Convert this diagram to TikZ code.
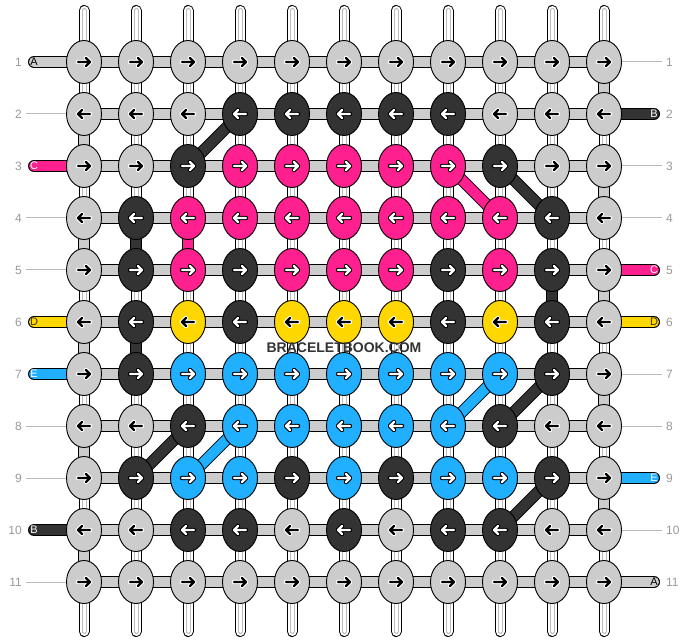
\documentclass[tikz,border=0pt]{standalone}
\usepackage{fontspec}
\setmainfont{Liberation Sans}
\usetikzlibrary{shapes.geometric,backgrounds}

\definecolor{filoA}{HTML}{CCCCCC}
\definecolor{filoB}{HTML}{333333}
\definecolor{filoC}{HTML}{FF2090}
\definecolor{filoD}{HTML}{FFD700}
\definecolor{filoE}{HTML}{20B0FF}
\definecolor{numeri}{HTML}{999999}
\definecolor{linee}{HTML}{BBBBBB}
% colori delle frecce e delle lettere
\colorlet{puntaA}{black}\colorlet{bordoA}{white}\colorlet{testoA}{black}
\colorlet{puntaB}{white}\colorlet{bordoB}{black}\colorlet{testoB}{white}
\colorlet{puntaC}{white}\colorlet{bordoC}{black}\colorlet{testoC}{white}
\colorlet{puntaD}{black}\colorlet{bordoD}{white}\colorlet{testoD}{filoB}
\colorlet{puntaE}{white}\colorlet{bordoE}{black}\colorlet{testoE}{white}

\tikzset{
  nodo/.style={ellipse, draw=black, line width=0.9pt, minimum width=35pt, minimum height=43pt, inner sep=0pt},
  numero/.style={text=numeri, inner sep=4pt, font=\fontsize{12}{12}\selectfont},
  capo/.style={inner sep=0pt, font=\fontsize{11}{11}\selectfont},
  marchio/.style={inner sep=0pt, font=\fontsize{14}{14}\selectfont\bfseries}
}

% filo bianco (da, a)
\newcommand{\bianco}[3][butt]{%
  \draw[black, line width=11pt, line cap=#1] (#2) -- (#3);
  \draw[white, line width=9pt, line cap=#1] (#2) -- (#3);
  \draw[linee, line width=5pt, line cap=#1] (#2) -- (#3);
  \draw[white, line width=3pt, line cap=#1] (#2) -- (#3);}
% filo pieno (colore, da, a)
\newcommand{\pieno}[4][butt]{%
  \draw[black, line width=12pt, line cap=#1] (#3) -- (#4);
  \draw[#2, line width=10pt, line cap=#1] (#3) -- (#4);}
% freccia nel nodo (nodo, verso, lettera)
\newcommand{\freccia}[3]{%
  \begin{scope}[shift={(#1)}, xscale=#2, line cap=round, line join=round]
    \draw[bordo#3, line width=4.4pt] (-6,0) -- (6,0) (2,-4) -- (6,0) -- (2,4);
    \draw[punta#3, line width=2.4pt] (-6,0) -- (6,0) (2,-4) -- (6,0) -- (2,4);
  \end{scope}}

\begin{document}
\begin{tikzpicture}[x=1pt, y=-1pt]
  \useasboundingbox (0,0) rectangle (688,644);

  % Nodi e frecce
  \foreach \r/\verso/\lista in {
      1/1/{A,A,A,A,A,A,A,A,A,A,A},
      2/-1/{A,A,A,B,B,B,B,B,A,A,A},
      3/1/{A,A,B,C,C,C,C,C,B,A,A},
      4/-1/{A,B,C,C,C,C,C,C,C,B,A},
      5/1/{A,B,C,B,C,C,C,B,C,B,A},
      6/-1/{A,B,D,B,D,D,D,B,D,B,A},
      7/1/{A,B,E,E,E,E,E,E,E,B,A},
      8/-1/{A,A,B,E,E,E,E,E,B,A,A},
      9/1/{A,B,E,E,B,E,B,E,E,B,A},
      10/-1/{A,A,B,B,A,B,A,B,B,A,A},
      11/1/{A,A,A,A,A,A,A,A,A,A,A}} {
    \foreach \c [count=\col] in \lista {
      \node[nodo, fill=filo\c] (k-\r-\col) at (32+52*\col, 10+52*\r) {};
      \freccia{k-\r-\col}{\verso}{\c}
    }
  }

  % Numeri delle righe
  \foreach \r in {1,...,11} {
    \node[numero, anchor=east] (nsx-\r) at (26, 10+52*\r) {\r};
    \node[numero, anchor=west] (ndx-\r) at (662, 10+52*\r) {\r};
  }

  % Lettere dei capi
  \foreach \r/\c in {1/A, 3/C, 6/D, 7/E, 10/B} {
    \node[capo, text=testo\c] (csx-\r) at (34, 10+52*\r) {\c};
  }
  \foreach \r/\c in {2/B, 5/C, 6/D, 9/E, 11/A} {
    \node[capo, text=testo\c] (cdx-\r) at (654, 10+52*\r) {\c};
  }

  % Scritta
  \node[marchio, text=filoB] (scritta) at (344, 347.5) {BRACELETBOOK.COM};

  \begin{pgfonlayer}{background}
    \fill[white] (0,0) rectangle (688,644);

    % fili verticali
    \foreach \col in {1,...,11} {
      \coordinate (su-\col) at (32+52*\col, 10.5);
      \coordinate (giu-\col) at (32+52*\col, 631.5);
      \bianco[round]{su-\col}{k-1-\col.center}
      \bianco[round]{k-11-\col.center}{giu-\col}
      \foreach \r [evaluate=\r as \s using int(\r+1)] in {1,...,10} {
        \bianco{k-\r-\col.center}{k-\s-\col.center}
      }
    }
    % tratti verticali pieni
    \foreach \r/\col/\c [evaluate=\r as \s using int(\r+1)] in {1/11/A, 2/1/A, 3/11/A, 4/1/A, 5/11/A,
        6/1/A, 7/11/A, 8/1/A, 9/11/A, 10/1/A, 4/2/B, 5/10/B, 6/2/B, 4/3/C} {
      \pieno{filo\c}{k-\r-\col.center}{k-\s-\col.center}
    }

    % fili orizzontali
    \foreach \r in {1,...,11} {
      \foreach \col [evaluate=\col as \d using int(\col+1)] in {1,...,10} {
        \pieno{filoA}{k-\r-\col.center}{k-\r-\d.center}
      }
    }

    % diagonali
    \foreach \ra/\ca/\rb/\cb/\c in {2/4/3/3/B, 3/9/4/10/B, 3/8/4/9/C, 7/10/8/9/B,
        7/9/8/8/E, 8/4/9/3/E, 8/3/9/2/B, 9/10/10/9/B} {
      \pieno{filo\c}{k-\ra-\ca.center}{k-\rb-\cb.center}
    }

    % capi ai lati
    \foreach \r/\c in {1/A, 3/C, 6/D, 7/E, 10/B} {
      \pieno[round]{filo\c}{csx-\r.center}{k-\r-1.center}
    }
    \foreach \r/\c in {2/B, 5/C, 6/D, 9/E, 11/A} {
      \pieno[round]{filo\c}{k-\r-11.center}{cdx-\r.center}
    }

    % linee sottili
    \foreach \r in {2,4,5,8,9,11} {
      \draw[linee, line width=1pt] (nsx-\r.east) -- (k-\r-1.center);
    }
    \foreach \r in {1,3,4,7,8,10} {
      \draw[linee, line width=1pt] (k-\r-11.center) -- (ndx-\r.west);
    }
  \end{pgfonlayer}
\end{tikzpicture}
\end{document}
